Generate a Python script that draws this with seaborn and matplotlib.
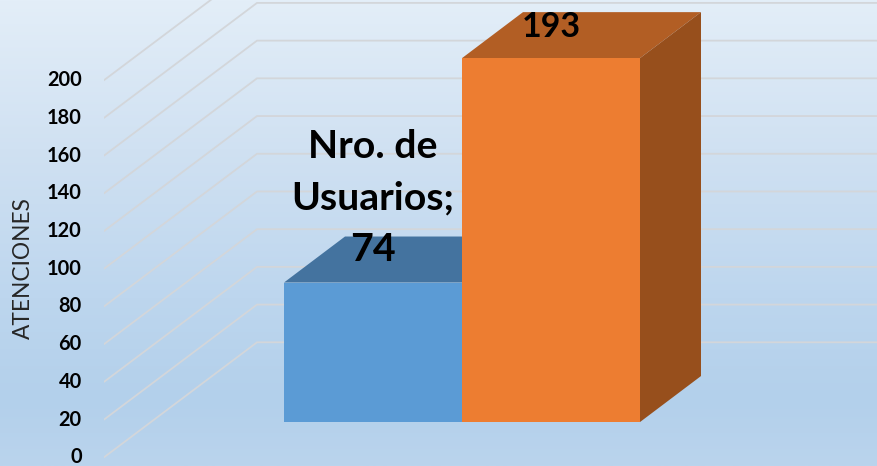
import numpy as np
import pandas as pd
import matplotlib
matplotlib.use("Agg")
import matplotlib.pyplot as plt
from matplotlib.colors import LinearSegmentedColormap
from matplotlib.patches import Polygon
from matplotlib.transforms import ScaledTranslation
import seaborn as sns

categories = ["Grupo 1", "Grupo 2"]
values = [74, 193]
labels = ["Nro. de\nUsuarios;\n74", "193"]
label_sizes = [28.3, 24.5]
y_ticks = [0, 20, 40, 60, 80, 100, 120, 140, 160, 180, 200]
y_title = "ATENCIONES"
front_colors = ["#5B9BD5", "#ED7D31"]
top_colors = ["#44739F", "#B25E24"]
side_colors = ["#3A6287", "#974F1C"]

W, H = 877, 466
sns.set_theme(style="white")
plt.rcParams["font.family"] = ["Lato", "DejaVu Sans"]

fig = plt.figure(figsize=(W / 100, H / 100), dpi=100)

# background gradient
bg = fig.add_axes([0, 0, 1, 1], zorder=0)
cmap = LinearSegmentedColormap.from_list(
    "bg",
    [(0.0, "#E3EEF8"), (0.32, "#D0E1F2"), (0.64, "#BDD6EE"), (0.86, "#B3D0EB"), (1.0, "#BAD4ED")],
)
bg.imshow(np.linspace(0, 1, 256).reshape(-1, 1), aspect="auto", cmap=cmap, vmin=0, vmax=1)
bg.set_axis_off()

# main axes: spans from the axis line to the right edge
ax_left_px = 104
ax = fig.add_axes([ax_left_px / W, 0, 1 - ax_left_px / W, 1], zorder=1)
ax.patch.set_alpha(0)

px_per_unit = 1.8855
zero_px = 457.3
cat_px = 178.0
first_px = 373.0
xlim = ((ax_left_px - first_px) / cat_px, (W - first_px) / cat_px)
ylim = ((zero_px - H) / px_per_unit, zero_px / px_per_unit)

base = 18.7          # bars stand forward on the 3D floor
depth_x = 61 / cat_px
depth_y = 46 / px_per_unit
wall_x = 153 / cat_px
wall_y = 115 / px_per_unit

df = pd.DataFrame({"categoria": categories, "valor": values})
sns.barplot(
    data=df, x="categoria", y="valor", hue="categoria",
    palette=front_colors, width=1.0, legend=False, ax=ax,
    bottom=base, linewidth=0, saturation=1,
)
ax.set_xlim(*xlim)
ax.set_ylim(*ylim)

# walls' gridlines
for v in y_ticks:
    ax.plot(
        [xlim[0], xlim[0] + wall_x, xlim[1]],
        [v, v + wall_y, v + wall_y],
        color="#D3D6DA", lw=1.3, zorder=1, clip_on=True, solid_joinstyle="miter",
    )

# 3D faces
for i, (v, patch) in enumerate(zip(values, ax.patches)):
    z = 2 + i
    patch.set_zorder(z + 0.2)
    x0, x1 = i - 0.5, i + 0.5
    b, t = base, base + v
    ax.add_patch(Polygon(
        [(x0, t), (x1, t), (x1 + depth_x, t + depth_y), (x0 + depth_x, t + depth_y)],
        closed=True, fc=top_colors[i], ec="none", zorder=z,
    ))
    ax.add_patch(Polygon(
        [(x1, b), (x1 + depth_x, b + depth_y), (x1 + depth_x, t + depth_y), (x1, t)],
        closed=True, fc=side_colors[i], ec="none", zorder=z,
    ))
    ax.annotate(
        labels[i], xy=(i, t), xytext=(0, 15.5), textcoords="offset points",
        ha="center", va="baseline", fontsize=label_sizes[i], fontweight="bold", color="black",
        linespacing=1.57, zorder=6,
    )

# axes styling
ax.set_xticks([])
ax.set_xlabel("")
ax.set_yticks(y_ticks)
ax.set_yticklabels([str(t) for t in y_ticks], fontsize=14.4, fontweight="bold", color="black")
ax.tick_params(axis="y", length=0, pad=16)
lift = ScaledTranslation(0, 2.0 / 100, fig.dpi_scale_trans)
for lab in ax.get_yticklabels():
    lab.set_transform(lab.get_transform() + lift)
ax.set_ylabel("")
for s in ax.spines.values():
    s.set_visible(False)

fig.text(23 / W, 1 - 268 / H, y_title, rotation=90, ha="center", va="center",
         fontsize=16.3, color="#262626")

fig.savefig("out.png", dpi=100)
